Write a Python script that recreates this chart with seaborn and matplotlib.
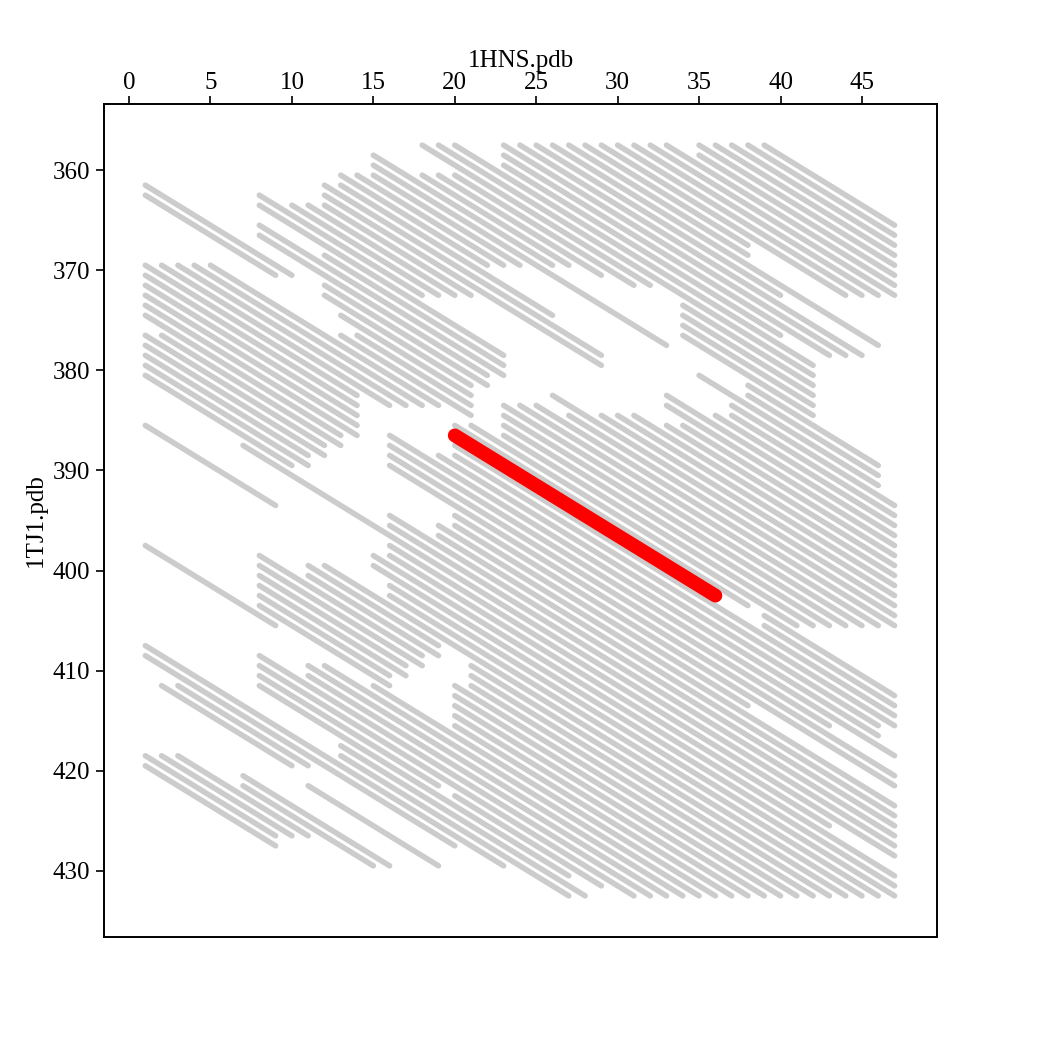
import numpy as np
import pandas as pd
import matplotlib
matplotlib.use("Agg")
import matplotlib.pyplot as plt
import seaborn as sns

# Aligned fragment pairs: start residue on 1HNS (x), end residue on 1HNS, and the diagonal
# offset (1TJ1 residue minus 1HNS residue). Every fragment runs on a 45 degree diagonal.
seg_x0 = [39, 38, 37, 36, 35, 35, 33, 32, 31, 30, 29, 28, 27, 26, 25, 24, 23, 23, 23, 20, 19,
          18, 34, 20, 34, 19, 34, 18, 34, 15, 38, 15, 38, 15, 35, 14, 37, 13, 37, 13, 36,
          12, 33, 12, 33, 12, 34, 11, 33, 10, 31, 8, 30, 8, 29, 12, 26, 8, 27, 8, 25, 12, 24,
          1, 12, 23, 1, 13, 23, 14, 23, 13, 23, 5, 21, 4, 20, 39, 3, 39, 2, 20, 1, 20,
          1, 19, 1, 16, 1, 16, 1, 16, 1, 16, 2, 20, 1, 20, 1, 19, 1, 19, 1, 16, 1, 16,
          7, 16, 16, 15, 1, 15, 16, 16, 12, 11, 21, 11, 21, 8, 21, 8, 20, 8, 20, 8, 20,
          8, 20, 8, 20, 1, 15, 12, 11, 11, 8, 8, 8, 20, 8, 13, 13, 1, 1, 3, 2, 11,
          7, 7, 3, 2, 1, 1]
seg_x1 = [47, 47, 47, 47, 47, 47, 47, 47, 46, 45, 44, 38, 38, 46, 40, 45, 44, 43, 40, 42, 42,
          32, 42, 31, 42, 29, 42, 27, 42, 26, 46, 33, 46, 24, 46, 23, 47, 22, 47, 26, 47,
          29, 47, 29, 47, 21, 47, 20, 47, 19, 47, 18, 47, 23, 47, 23, 47, 23, 47, 22, 47, 22, 46,
          10, 21, 45, 9, 21, 44, 21, 43, 21, 42, 19, 41, 18, 38, 47, 17, 47, 16, 47, 14, 47,
          14, 46, 14, 46, 14, 47, 14, 43, 13, 47, 13, 47, 12, 38, 12, 47, 11, 47, 11, 47, 10, 47,
          47, 47, 43, 47, 9, 47, 47, 46, 45, 19, 44, 19, 43, 18, 42, 18, 41, 17, 40, 17, 39,
          16, 38, 16, 37, 9, 36, 35, 34, 33, 32, 31, 19, 29, 27, 28, 27, 23, 20, 11, 10, 19,
          16, 15, 11, 10, 9, 9]
seg_diag = [318, 319, 320, 321, 322, 323, 324, 325, 326, 327, 328, 329, 330, 331, 332, 333, 334, 335, 336, 337, 338,
            339, 339, 340, 340, 341, 341, 342, 342, 343, 343, 344, 344, 345, 345, 346, 346, 347, 347, 348, 348,
            349, 349, 350, 350, 351, 351, 352, 352, 353, 353, 354, 354, 355, 355, 356, 356, 357, 357, 358, 358, 359, 359,
            360, 360, 360, 361, 361, 361, 362, 362, 363, 363, 364, 364, 365, 365, 365, 366, 366, 367, 367, 368, 368,
            369, 369, 370, 370, 371, 371, 372, 372, 373, 373, 374, 374, 375, 375, 376, 376, 377, 377, 378, 378, 379, 379,
            380, 381, 382, 383, 384, 384, 385, 386, 387, 388, 388, 389, 389, 390, 390, 391, 391, 392, 392, 393, 393,
            394, 394, 395, 395, 396, 396, 397, 398, 399, 400, 401, 402, 402, 403, 404, 405, 406, 407, 408, 409, 410,
            413, 414, 415, 416, 417, 418]
seg_y0 = [x + d for x, d in zip(seg_x0, seg_diag)]

# Best-scoring fragment (highlighted)
best_x = [20, 36]
best_y = [386, 402]

x_ticks = [0, 5, 10, 15, 20, 25, 30, 35, 40, 45]
y_ticks = [360, 370, 380, 390, 400, 410, 420, 430]

# residue rows are drawn half a row below their tick
Y_OFFSET = 0.5

rows = []
for i, (x0, y0, x1) in enumerate(zip(seg_x0, seg_y0, seg_x1)):
    rows.append({"seg": i, "x": x0, "y": y0 + Y_OFFSET})
    rows.append({"seg": i, "x": x1, "y": y0 + (x1 - x0) + Y_OFFSET})
df = pd.DataFrame(rows)
best = pd.DataFrame({"x": best_x, "y": np.array(best_y) + Y_OFFSET})

sns.set_style("white")
plt.rcParams["font.family"] = ["Liberation Serif", "DejaVu Serif"]
plt.rcParams["text.color"] = "black"
plt.rcParams["axes.labelcolor"] = "black"
plt.rcParams["xtick.color"] = "black"
plt.rcParams["ytick.color"] = "black"

fig = plt.figure(figsize=(10.41, 10.41), dpi=100)
ax = fig.add_axes([0.1, 0.1, 0.8, 0.8])

sns.lineplot(data=df, x="x", y="y", units="seg", estimator=None, sort=False,
             color="#cccccc", lw=4, solid_capstyle="round", legend=False, ax=ax)
sns.lineplot(data=best, x="x", y="y", sort=False, color="#ff0000", lw=10,
             solid_capstyle="round", legend=False, ax=ax)

ax.set_xlim(-1.53, 49.6)
ax.set_ylim(436.6, 353.4)
ax.set_xticks(x_ticks)
ax.set_yticks(y_ticks)
ax.xaxis.tick_top()
ax.xaxis.set_label_position("top")
ax.set_xlabel("1HNS.pdb", fontsize=18, labelpad=4)
ax.set_ylabel("1TJ1.pdb", fontsize=18, labelpad=4)
ax.tick_params(axis="both", direction="out", length=6, width=1.2, labelsize=18,
               top=True, bottom=False, left=True, right=False)
ax.tick_params(axis="x", pad=1)
ax.tick_params(axis="y", pad=4)
for s in ax.spines.values():
    s.set_visible(True)
    s.set_color("black")
    s.set_linewidth(1.4)

fig.savefig("out.png", dpi=100)
